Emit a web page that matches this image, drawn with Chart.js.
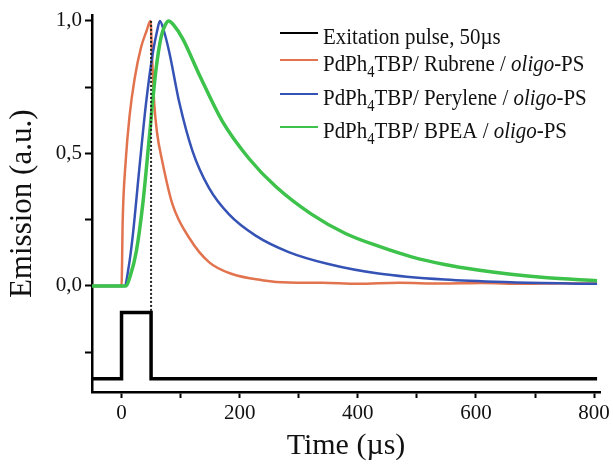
<!DOCTYPE html>
<html lang="en">
<head>
    <meta charset="UTF-8">
    <title>Emission vs time</title>
    <style>
        body { margin: 0; background: #fff; }
        #chartContainer { width: 613px; height: 464px; }
    </style>
    <script src="https://cdn.jsdelivr.net/npm/chart.js"></script>
</head>
<body>
    <div id="chartContainer"><canvas id="chart1"></canvas></div>
    <script>
        // Excitation pulse (50 us)
        const pulseTime = [-50, 0, 0, 50, 50, 805];
        const pulseValue = [-0.35, -0.35, -0.1, -0.1, -0.35, -0.35];

        // PdPh4TBP / Rubrene / oligo-PS
        const rubreneTime = [-50, 0, 2, 7, 13.5, 22, 33, 42, 49, 52, 55, 60, 69, 86, 115, 148, 187, 238, 283, 340, 400, 470, 540, 610, 680, 750, 805];
        const rubreneValue = [0, 0, 0.25, 0.47, 0.64, 0.78, 0.9, 0.96, 1.0, 0.85, 0.7, 0.58, 0.47, 0.31, 0.18, 0.09, 0.045, 0.022, 0.013, 0.012, 0.008, 0.012, 0.009, 0.011, 0.008, 0.01, 0.009];

        // PdPh4TBP / Perylene / oligo-PS
        const peryleneTime = [-50, 5, 12, 19, 30, 41.5, 53, 60, 65, 72, 81, 98, 120, 148, 182, 227, 283, 350, 435, 547, 659, 805];
        const peryleneValue = [0, 0, 0.07, 0.19, 0.44, 0.69, 0.88, 0.96, 1.0, 0.96, 0.88, 0.69, 0.51, 0.37, 0.27, 0.19, 0.128, 0.083, 0.047, 0.024, 0.014, 0.008];

        // PdPh4TBP / BPEA / oligo-PS
        const bpeaTime = [-50, 7, 15, 25, 36, 47, 58, 67, 74, 80, 88, 103, 131, 171, 216, 261, 322, 379, 435, 491, 547, 603, 659, 716, 805];
        const bpeaValue = [0, 0, 0.04, 0.13, 0.31, 0.56, 0.81, 0.94, 0.985, 1.0, 0.985, 0.935, 0.8, 0.62, 0.48, 0.375, 0.27, 0.198, 0.15, 0.11, 0.081, 0.06, 0.044, 0.032, 0.02];

        // dotted marker at the end of the pulse
        const markerTime = [50, 50];
        const markerValue = [1.0, -0.1];

        const xTicks = [0, 100, 200, 300, 400, 500, 600, 700, 800];
        const xLabels = [0, 200, 400, 600, 800];
        const yTicks = [-0.25, 0, 0.25, 0.5, 0.75, 1.0];
        const yLabels = { '0': '0,0', '0.5': '0,5', '1': '1,0' };

        const legendLabels = [
            'Exitation pulse, 50µs',
            'PdPh_4TBP/ Rubrene / *oligo*-PS',
            'PdPh_4TBP/ Perylene / *oligo*-PS',
            'PdPh_4TBP/ BPEA / *oligo*-PS'
        ];

        const SERIF = '"Liberation Serif", "DejaVu Serif", serif';

        function toPoints(xs, ys) {
            return xs.map((x, i) => ({ x: x, y: ys[i] }));
        }

        // Draw text with _4 subscripts and *italic* parts
        function drawRich(ctx, x, y, text, size) {
            const parts = text.split(/(_\d|\*[^*]+\*)/).filter(p => p.length);
            parts.forEach(p => {
                let font = size + 'px ' + SERIF;
                let dy = 0;
                let s = p;
                if (p[0] === '_') {
                    s = p.slice(1);
                    font = Math.round(size * 0.68) + 'px ' + SERIF;
                    dy = 6;
                } else if (p[0] === '*') {
                    s = p.slice(1, -1);
                    font = 'italic ' + size + 'px ' + SERIF;
                }
                ctx.font = font;
                ctx.fillText(s, x, y + dy);
                x += ctx.measureText(s).width;
            });
        }

        const richLegend = {
            id: 'richLegend',
            afterDraw(chart, args, opts) {
                const ctx = chart.ctx;
                ctx.save();
                ctx.textBaseline = 'alphabetic';
                ctx.fillStyle = '#111';
                let row = 0;
                chart.data.datasets.forEach(ds => {
                    if (!ds.legendText) return;
                    const y = opts.rows[row++];
                    ctx.strokeStyle = ds.borderColor;
                    ctx.lineWidth = 2;
                    ctx.beginPath();
                    ctx.moveTo(opts.x, y);
                    ctx.lineTo(opts.x + opts.lineLength, y);
                    ctx.stroke();
                    ctx.save();
                    ctx.translate(opts.x + opts.lineLength + 5, y + 11);
                    ctx.scale(opts.squeeze, 1);
                    drawRich(ctx, 0, 0, ds.legendText, opts.fontSize);
                    ctx.restore();
                });
                ctx.restore();
            }
        };

        const ctx = document.getElementById('chart1').getContext('2d');
        new Chart(ctx, {
            type: 'line',
            data: {
                datasets: [
                    {
                        label: 'Exitation pulse, 50µs',
                        legendText: legendLabels[0],
                        data: toPoints(pulseTime, pulseValue),
                        borderColor: '#000000',
                        borderWidth: 3.5,
                        tension: 0,
                        order: 1
                    },
                    {
                        label: 'PdPh4TBP/ Rubrene / oligo-PS',
                        legendText: legendLabels[1],
                        data: toPoints(rubreneTime, rubreneValue),
                        borderColor: '#e2734f',
                        borderWidth: 2.5,
                        cubicInterpolationMode: 'monotone',
                        order: 4
                    },
                    {
                        label: 'PdPh4TBP/ Perylene / oligo-PS',
                        legendText: legendLabels[2],
                        data: toPoints(peryleneTime, peryleneValue),
                        borderColor: '#3552b5',
                        borderWidth: 2.5,
                        cubicInterpolationMode: 'monotone',
                        order: 3
                    },
                    {
                        label: 'PdPh4TBP/ BPEA / oligo-PS',
                        legendText: legendLabels[3],
                        data: toPoints(bpeaTime, bpeaValue),
                        borderColor: '#3dc24b',
                        borderWidth: 3.5,
                        cubicInterpolationMode: 'monotone',
                        order: 2
                    },
                    {
                        label: 'pulse end',
                        data: toPoints(markerTime, markerValue),
                        borderColor: '#222222',
                        borderWidth: 2,
                        borderDash: [2, 2],
                        tension: 0,
                        order: 0
                    }
                ]
            },
            options: {
                responsive: true,
                maintainAspectRatio: false,
                animation: false,
                elements: { point: { radius: 0 } },
                layout: { autoPadding: false, padding: { top: 13, right: 11, left: 0, bottom: 0 } },
                plugins: {
                    legend: { display: false },
                    tooltip: { enabled: false },
                    richLegend: { x: 280, lineLength: 38, rows: [33, 60, 94, 127], fontSize: 23, squeeze: 0.91 }
                },
                scales: {
                    x: {
                        type: 'linear',
                        min: -50,
                        max: 810,
                        afterBuildTicks: axis => { axis.ticks = xTicks.map(v => ({ value: v })); },
                        afterFit: axis => { axis.height = 72; },
                        ticks: {
                            autoSkip: false,
                            maxRotation: 0,
                            padding: 3,
                            color: '#111',
                            font: { family: SERIF, size: 21 },
                            callback: v => xLabels.includes(v) ? String(v) : ''
                        },
                        grid: { drawOnChartArea: false, drawTicks: true, tickLength: 6, tickWidth: 2, tickColor: '#000' },
                        border: { display: true, color: '#000', width: 2.5 },
                        title: {
                            display: true,
                            text: 'Time (µs)',
                            color: '#111',
                            font: { family: SERIF, size: 30 },
                            padding: { top: 0, bottom: 0 }
                        }
                    },
                    y: {
                        type: 'linear',
                        min: -0.4,
                        max: 1.02,
                        afterBuildTicks: axis => { axis.ticks = yTicks.map(v => ({ value: v })); },
                        afterFit: axis => { axis.width = 92; },
                        ticks: {
                            autoSkip: false,
                            padding: 3,
                            color: '#111',
                            font: { family: SERIF, size: 21 },
                            callback: v => yLabels[String(v)] || ''
                        },
                        grid: { drawOnChartArea: false, drawTicks: true, tickLength: 7, tickWidth: 2, tickColor: '#000' },
                        border: { display: true, color: '#000', width: 2.5 },
                        title: {
                            display: true,
                            text: 'Emission (a.u.)',
                            color: '#111',
                            font: { family: SERIF, size: 31 },
                            padding: { top: 4, bottom: 0 }
                        }
                    }
                }
            },
            plugins: [richLegend]
        });
    </script>
</body>
</html>
